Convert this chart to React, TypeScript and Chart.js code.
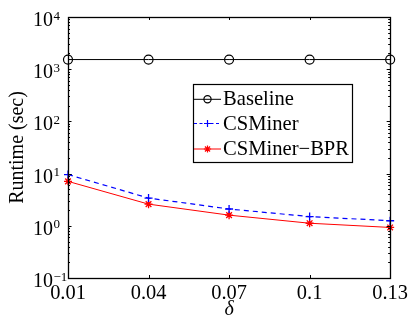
import React, { useEffect, useRef } from 'react';
import { Chart, registerables } from 'chart.js';

Chart.register(...registerables);

const categories = ['0.01', '0.04', '0.07', '0.1', '0.13'];
const baseline = [1530, 1530, 1530, 1530, 1530];
const csminer = [9.6, 3.4, 2.1, 1.5, 1.25];
const csminerBpr = [7.1, 2.6, 1.6, 1.12, 0.93];
const yTickExponents = [-1, 0, 1, 2, 3, 4];
const seriesNames = ['Baseline', 'CSMiner', 'CSMiner\u2212BPR'];
const seriesColors = ['#000000', '#0000ff', '#ff0000'];

const FONT = '"Liberation Serif", "Times New Roman", serif';

function drawMarker(ctx: CanvasRenderingContext2D, kind: number, x: number, y: number, color: string) {
  ctx.save();
  ctx.strokeStyle = color;
  ctx.lineWidth = 1.2;
  ctx.setLineDash([]);
  ctx.beginPath();
  if (kind === 0) {
    ctx.arc(x, y, 3.6, 0, Math.PI * 2);
  } else if (kind === 1) {
    ctx.moveTo(x - 3.5, y); ctx.lineTo(x + 3.5, y);
    ctx.moveTo(x, y - 3.5); ctx.lineTo(x, y + 3.5);
  } else {
    const r = 3.6;
    const d = r * Math.SQRT1_2;
    ctx.moveTo(x - r, y); ctx.lineTo(x + r, y);
    ctx.moveTo(x, y - r); ctx.lineTo(x, y + r);
    ctx.moveTo(x - d, y - d); ctx.lineTo(x + d, y + d);
    ctx.moveTo(x - d, y + d); ctx.lineTo(x + d, y - d);
  }
  ctx.stroke();
  ctx.restore();
}

const framePlugin = {
  id: 'matlabFrame',
  afterDatasetsDraw(chart: any) {
    const ctx: CanvasRenderingContext2D = chart.ctx;
    const { left, right, top, bottom } = chart.chartArea;
    const xs = chart.scales.x;
    const ys = chart.scales.y;
    ctx.save();
    ctx.strokeStyle = '#000';
    ctx.lineWidth = 1.3;
    ctx.setLineDash([]);
    ctx.strokeRect(Math.round(left) + 0.5, Math.round(top) + 0.5, Math.round(right - left), Math.round(bottom - top));
    ctx.lineWidth = 1;
    ctx.beginPath();
    categories.forEach((_, i) => {
      const px = Math.round(xs.getPixelForValue(i)) + 0.5;
      ctx.moveTo(px, bottom); ctx.lineTo(px, bottom - 3);
      ctx.moveTo(px, top); ctx.lineTo(px, top + 3);
    });
    for (let e = yTickExponents[0]; e < yTickExponents[yTickExponents.length - 1]; e++) {
      for (let m = 1; m <= 9; m++) {
        const v = m * Math.pow(10, e);
        const py = Math.round(ys.getPixelForValue(v)) + 0.5;
        const len = m === 1 ? 3.5 : 2;
        ctx.moveTo(left, py); ctx.lineTo(left + len, py);
        ctx.moveTo(right, py); ctx.lineTo(right - len, py);
      }
    }
    ctx.stroke();

    ctx.fillStyle = '#000';
    yTickExponents.forEach((e) => {
      const py = ys.getPixelForValue(Math.pow(10, e));
      ctx.font = `20px ${FONT}`;
      ctx.textAlign = 'right';
      ctx.textBaseline = 'alphabetic';
      ctx.fillText('10', 53, py + 9);
      ctx.font = `13px ${FONT}`;
      ctx.textAlign = 'left';
      ctx.fillText(e < 0 ? '\u2212' + Math.abs(e) : String(e), 53.5, py + 2.5);
    });

    const bx = 193, by = 84, bw = 159, bh = 78;
    ctx.fillStyle = '#fff';
    ctx.fillRect(bx, by, bw, bh);
    ctx.strokeStyle = '#000';
    ctx.lineWidth = 1.2;
    ctx.strokeRect(bx + 0.5, by + 0.5, bw, bh);
    const rows = [99.3, 123.5, 149];
    seriesNames.forEach((name, i) => {
      const ry = rows[i];
      ctx.save();
      ctx.strokeStyle = seriesColors[i];
      ctx.lineWidth = 1;
      ctx.setLineDash(i === 1 ? [3, 2.5] : []);
      ctx.beginPath();
      ctx.moveTo(194, ry);
      ctx.lineTo(221, ry);
      ctx.stroke();
      ctx.restore();
      drawMarker(ctx, i, 207.5, ry, seriesColors[i]);
      ctx.fillStyle = '#000';
      ctx.font = `20.6px ${FONT}`;
      ctx.textAlign = 'left';
      ctx.textBaseline = 'alphabetic';
      ctx.fillText(name, 223, ry + 6);
    });
    ctx.restore();
  },
};

export default function App() {
  const ref = useRef<HTMLCanvasElement | null>(null);
  useEffect(() => {
    document.body.style.margin = '0';
    const canvas = ref.current;
    if (!canvas) return;
    const chart = new Chart(canvas, {
      type: 'line',
      data: {
        labels: categories,
        datasets: [
          {
            label: seriesNames[0],
            data: baseline,
            borderColor: seriesColors[0],
            borderWidth: 1,
            pointStyle: 'circle',
            pointRadius: 4.5,
            pointBorderWidth: 1.2,
            pointBackgroundColor: 'rgba(0,0,0,0)',
            pointBorderColor: seriesColors[0],
            tension: 0,
          },
          {
            label: seriesNames[1],
            data: csminer,
            borderColor: seriesColors[1],
            borderWidth: 1.2,
            borderDash: [5, 4],
            pointStyle: 'cross',
            pointRadius: 4,
            pointBorderWidth: 1.3,
            pointBorderColor: seriesColors[1],
            tension: 0,
          },
          {
            label: seriesNames[2],
            data: csminerBpr,
            borderColor: seriesColors[2],
            borderWidth: 1,
            pointStyle: 'star',
            pointRadius: 4,
            pointBorderWidth: 1.3,
            pointBorderColor: seriesColors[2],
            tension: 0,
          },
        ],
      },
      options: {
        animation: false,
        responsive: false,
        devicePixelRatio: 1,
        layout: { padding: { top: 17, right: 20, left: 0, bottom: 0 } },
        plugins: { legend: { display: false }, tooltip: { enabled: false } },
        scales: {
          x: {
            type: 'category',
            offset: false,
            grid: { display: false, drawTicks: false },
            border: { display: false },
            ticks: { color: '#000', font: { family: FONT, size: 20.4 }, padding: 3, maxRotation: 0, autoSkip: false },
            title: { display: true, text: '\u03b4', color: '#000', font: { family: FONT, size: 20, style: 'italic' }, padding: { top: 0, bottom: 2 } },
            afterFit(s: any) { s.height = 46; },
          },
          y: {
            type: 'logarithmic',
            min: 0.1,
            max: 10000,
            grid: { display: false, drawTicks: false },
            border: { display: false },
            ticks: { display: false },
            title: { display: true, text: 'Runtime (sec)', color: '#000', font: { family: FONT, size: 20 }, padding: { top: 6, bottom: 0 } },
            afterFit(s: any) { s.width = 68; },
          },
        },
      },
      plugins: [framePlugin],
    });
    return () => chart.destroy();
  }, []);
  return <canvas ref={ref} width={411} height={324} style={{ display: 'block', width: 411, height: 324 }} />;
}
